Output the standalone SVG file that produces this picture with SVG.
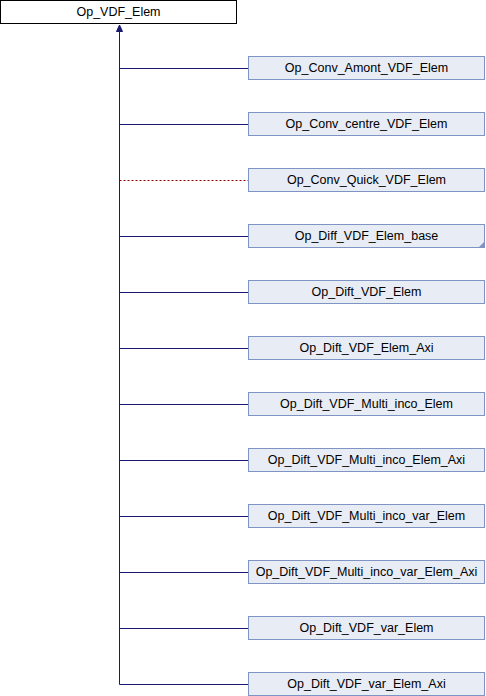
<svg xmlns="http://www.w3.org/2000/svg" width="486" height="696" viewBox="0 0 486 696">
<style>
.n rect{fill:#e8ecf5;stroke:#7f93c4;stroke-width:1}
.root rect{fill:#ffffff;stroke:#000000;stroke-width:1}
text{font-family:"Liberation Sans",Arial,sans-serif;font-size:12.5px;fill:#000;text-anchor:middle}
.e{fill:none;stroke:#191970;stroke-width:1}
.d{fill:none;stroke:#8b0000;stroke-width:1;stroke-dasharray:2,2}
</style>
<rect width="486" height="696" fill="#ffffff"/>
<g id="edges">
<path class="e" d="M119.5,31 V684.5 H248"/>
<polygon points="119.5,25 116.5,31.5 122.5,31.5" fill="#191970" stroke="#191970"/>
<path class="e" d="M119.5,68.5 H248"/>
<path class="e" d="M119.5,124.5 H248"/>
<path class="d" d="M119.5,180.5 H248"/>
<path class="e" d="M119.5,236.5 H248"/>
<path class="e" d="M119.5,292.5 H248"/>
<path class="e" d="M119.5,348.5 H248"/>
<path class="e" d="M119.5,404.5 H248"/>
<path class="e" d="M119.5,460.5 H248"/>
<path class="e" d="M119.5,516.5 H248"/>
<path class="e" d="M119.5,572.5 H248"/>
<path class="e" d="M119.5,628.5 H248"/>
</g>
<g id="Op_VDF_Elem" class="root"><rect x="0.5" y="0.5" width="236" height="23"/><text x="118.5" y="16">Op_VDF_Elem</text></g>
<g id="Op_Conv_Amont_VDF_Elem" class="n"><rect x="248.5" y="56.5" width="236" height="23"/><text x="366.5" y="72">Op_Conv_Amont_VDF_Elem</text></g>
<g id="Op_Conv_centre_VDF_Elem" class="n"><rect x="248.5" y="112.5" width="236" height="23"/><text x="366.5" y="128">Op_Conv_centre_VDF_Elem</text></g>
<g id="Op_Conv_Quick_VDF_Elem" class="n"><rect x="248.5" y="168.5" width="236" height="23"/><text x="366.5" y="184">Op_Conv_Quick_VDF_Elem</text></g>
<g id="Op_Diff_VDF_Elem_base" class="n"><rect x="248.5" y="224.5" width="236" height="23"/><polygon points="485,241 485,248 478,248" fill="#7f93c4"/><text x="366.5" y="240">Op_Diff_VDF_Elem_base</text></g>
<g id="Op_Dift_VDF_Elem" class="n"><rect x="248.5" y="280.5" width="236" height="23"/><text x="366.5" y="296">Op_Dift_VDF_Elem</text></g>
<g id="Op_Dift_VDF_Elem_Axi" class="n"><rect x="248.5" y="336.5" width="236" height="23"/><text x="366.5" y="352">Op_Dift_VDF_Elem_Axi</text></g>
<g id="Op_Dift_VDF_Multi_inco_Elem" class="n"><rect x="248.5" y="392.5" width="236" height="23"/><text x="366.5" y="408">Op_Dift_VDF_Multi_inco_Elem</text></g>
<g id="Op_Dift_VDF_Multi_inco_Elem_Axi" class="n"><rect x="248.5" y="448.5" width="236" height="23"/><text x="366.5" y="464">Op_Dift_VDF_Multi_inco_Elem_Axi</text></g>
<g id="Op_Dift_VDF_Multi_inco_var_Elem" class="n"><rect x="248.5" y="504.5" width="236" height="23"/><text x="366.5" y="520">Op_Dift_VDF_Multi_inco_var_Elem</text></g>
<g id="Op_Dift_VDF_Multi_inco_var_Elem_Axi" class="n"><rect x="248.5" y="560.5" width="236" height="23"/><text x="366.5" y="576">Op_Dift_VDF_Multi_inco_var_Elem_Axi</text></g>
<g id="Op_Dift_VDF_var_Elem" class="n"><rect x="248.5" y="616.5" width="236" height="23"/><text x="366.5" y="632">Op_Dift_VDF_var_Elem</text></g>
<g id="Op_Dift_VDF_var_Elem_Axi" class="n"><rect x="248.5" y="672.5" width="236" height="23"/><text x="366.5" y="688">Op_Dift_VDF_var_Elem_Axi</text></g>
</svg>
